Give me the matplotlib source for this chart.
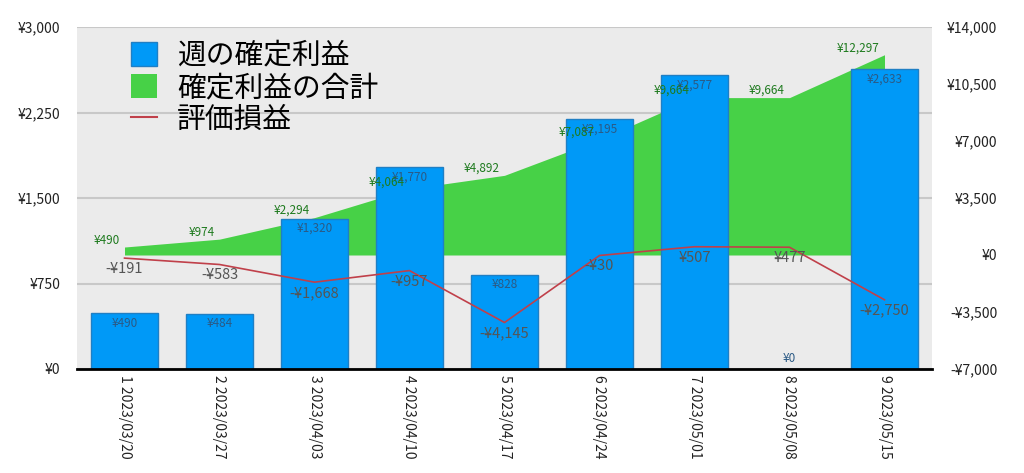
import matplotlib
matplotlib.use("Agg")
import matplotlib.pyplot as plt
from matplotlib.patches import Patch
from matplotlib.lines import Line2D
import numpy as np

plt.rcParams['font.family'] = ['Noto Sans CJK JP', 'DejaVu Sans']

weeks = ["1 2023/03/20", "2 2023/03/27", "3 2023/04/03", "4 2023/04/10", "5 2023/04/17",
         "6 2023/04/24", "7 2023/05/01", "8 2023/05/08", "9 2023/05/15"]
weekly_profit = [490, 484, 1320, 1770, 828, 2195, 2577, 0, 2633]
cumulative_profit = [490, 974, 2294, 4064, 4892, 7087, 9664, 9664, 12297]
unrealized = [-191, -583, -1668, -957, -4145, -30, 507, 477, -2750]
left_ticks = [0, 750, 1500, 2250, 3000]
right_ticks = [-7000, -3500, 0, 3500, 7000, 10500, 14000]

def yen(v):
    return f"-¥{abs(v):,}" if v < 0 else f"¥{v:,}"

BLUE = '#0099f7'
GREEN = '#47d147'
RED = '#c0404a'

fig = plt.figure(figsize=(10.24, 4.73), dpi=100)
ax1 = fig.add_axes([77/1024, 1-369/473, (932-77)/1024, (369-27)/473])
x = np.arange(len(weeks))

# base axis: background, grid, left ticks
ax1.set_facecolor('#ebebeb')
ax1.set_ylim(left_ticks[0], left_ticks[-1])
ax1.set_yticks(left_ticks)
ax1.set_yticklabels([yen(v) for v in left_ticks])
ax1.set_xlim(-0.5, len(weeks) - 0.5)
ax1.set_xticks(x)
ax1.set_xticklabels(weeks, rotation=270, va='top', ha='center', fontsize=10, color='#222222')
ax1.grid(axis='y', color='#c8c8c8', lw=1.5)
ax1.tick_params(axis='y', length=0, pad=12, labelsize=10, colors='#222222')
ax1.tick_params(axis='x', length=0, pad=4)
for s in ax1.spines.values():
    s.set_visible(False)

# green cumulative area (right scale)
ax2 = ax1.twinx()
ax2.set_ylim(right_ticks[0], right_ticks[-1])
ax2.set_yticks(right_ticks)
ax2.set_yticklabels([yen(v) for v in right_ticks])
for lab in ax2.get_yticklabels():
    lab.set_horizontalalignment('right')
ax2.tick_params(axis='y', length=0, pad=47, labelsize=10, colors='#222222')
ax2.fill_between(x, 0, cumulative_profit, color=GREEN, lw=0)
for s in ax2.spines.values():
    s.set_visible(False)

# bars (left scale)
ax3 = ax1.twinx()
ax3.set_ylim(left_ticks[0], left_ticks[-1])
ax3.yaxis.set_visible(False)
ax3.bar(x, weekly_profit, width=0.7, color=BLUE, edgecolor='#1f7fc4', lw=1)
for xi, v in zip(x, weekly_profit):
    ax3.annotate(yen(v), (xi, v), xytext=(0, -10 if v > 0 else 10), textcoords='offset pixels',
                 ha='center', va='center', fontsize=8.5, color='#2b5a85')
for s in ax3.spines.values():
    s.set_visible(False)

# red line (right scale) + labels
ax4 = ax1.twinx()
ax4.set_ylim(right_ticks[0], right_ticks[-1])
ax4.yaxis.set_visible(False)
ax4.plot(x, unrealized, color=RED, lw=1.2)
for xi, v in zip(x, unrealized):
    ax4.annotate(yen(v), (xi, v), xytext=(0, -11), textcoords='offset pixels',
                 ha='center', va='center', fontsize=10.5, color='#555555')
for xi, v in zip(x, cumulative_profit):
    ax4.annotate(yen(v), (xi, v), xytext=(-5, 7), textcoords='offset pixels',
                 ha='right', va='center', fontsize=8.5, color='#1e7a1e')
for k, s in ax4.spines.items():
    s.set_visible(k == 'bottom')
ax4.spines['bottom'].set_color('black')
ax4.spines['bottom'].set_linewidth(2)

handles = [Patch(facecolor=BLUE, edgecolor='#1f7fc4'), Patch(facecolor=GREEN), Line2D([], [], color=RED, lw=1.5)]
labels = ["週の確定利益", "確定利益の合計", "評価損益"]
ax4.legend(handles, labels, loc='upper left', bbox_to_anchor=(54/855, 0.96), frameon=False,
           fontsize=20.7, labelspacing=0.08, handlelength=0.9, handleheight=0.9,
           handletextpad=0.7, borderpad=0, borderaxespad=0)

fig.savefig("out.png", dpi=100)
